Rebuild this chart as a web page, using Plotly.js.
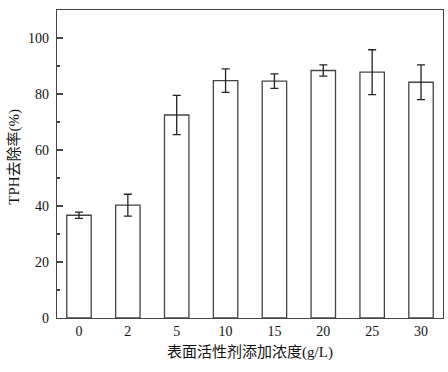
<!DOCTYPE html>
<html><head><meta charset="utf-8">
<script src="https://cdn.plot.ly/plotly-3.0.1.min.js"></script>
<style>html,body{margin:0;padding:0;background:#fff}</style>
</head><body><div id="chart" style="width:448px;height:372px"></div>
<script>
const categories = ["0", "2", "5", "10", "15", "20", "25", "30"];
const removal = [36.7, 40.3, 72.5, 84.8, 84.6, 88.4, 87.8, 84.2];
const errors = [1.1, 3.9, 7.0, 4.2, 2.6, 2.0, 8.0, 6.2];

const font = "Liberation Serif, 'Times New Roman', 'Noto Sans CJK SC', serif";
const trace = {
  type: "bar",
  x: categories,
  y: removal,
  width: 0.5,
  marker: {color: "#ffffff", line: {color: "#444444", width: 1.3}},
  error_y: {type: "data", array: errors, visible: true, color: "#222222", thickness: 1.3, width: 4}
};
const layout = {
  width: 448, height: 372,
  margin: {l: 57, r: 5, t: 10, b: 54},
  paper_bgcolor: "#fff", plot_bgcolor: "#fff",
  showlegend: false,
  font: {family: font, size: 14, color: "#111"},
  xaxis: {
    type: "category", range: [-0.45, 7.45],
    showline: true, linecolor: "#444", linewidth: 1.3, mirror: true,
    ticks: "", showgrid: false, zeroline: false,
    tickfont: {family: font, size: 14},
    title: {text: "表面活性剂添加浓度(g/L)", font: {family: font, size: 15}, standoff: 8}
  },
  yaxis: {
    range: [0, 110], dtick: 20,
    showline: true, linecolor: "#444", linewidth: 1.3, mirror: true,
    ticks: "inside", ticklen: 6, tickcolor: "#444", tickwidth: 1.2,
    ticklabelstandoff: 4,
    minor: {dtick: 10, ticks: "inside", ticklen: 3, tickcolor: "#444", tickwidth: 1.2, showgrid: false},
    showgrid: false, zeroline: false,
    tickfont: {family: font, size: 14}
  },
  annotations: [{
    text: "TPH去除率(%)", textangle: -90, showarrow: false,
    xref: "paper", yref: "paper", x: -0.111, y: 0.524,
    xanchor: "center", yanchor: "middle",
    font: {family: font, size: 15, color: "#111"}
  }]
};
Plotly.newPlot("chart", [trace], layout, {displayModeBar: false, staticPlot: true});
</script></body></html>
